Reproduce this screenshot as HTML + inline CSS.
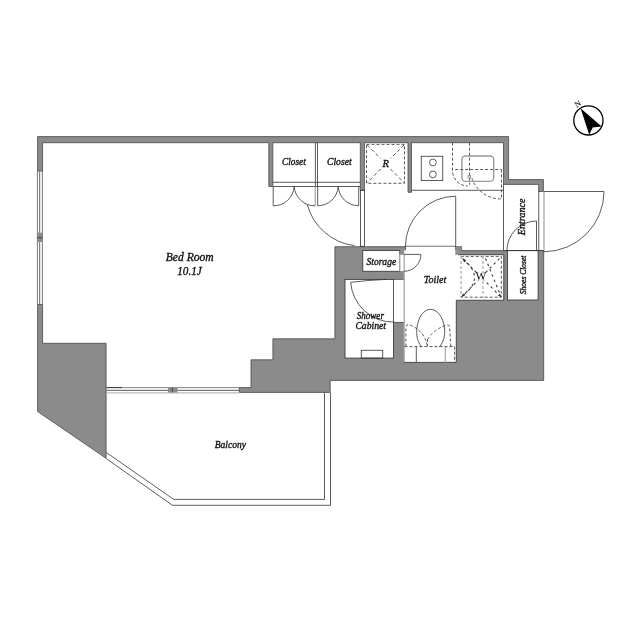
<!DOCTYPE html>
<html><head><meta charset="utf-8"><style>
html,body{margin:0;padding:0;background:#fff;}
body{width:640px;height:640px;overflow:hidden;}
svg{display:block;will-change:transform;}
text{font-family:"Liberation Serif",serif;font-style:italic;fill:#111;stroke:#111;stroke-width:0.35px;}
</style></head><body>
<svg width="640" height="640" viewBox="0 0 640 640">
<rect width="640" height="640" fill="#fff"/>

<!-- ===== WALLS ===== -->
<g id="walls" fill="#8b8b8b" stroke="#484848" stroke-width="0.8" stroke-linejoin="miter">
  <polygon points="37.6,171 37.6,136.6 508.6,136.6 508.6,179.6 543.4,179.6 543.4,191.5 538.6,191.5 538.7,184.4 503.5,184.4 503.5,142.7 411.5,142.7 411.5,192.3 408,192.3 408,142.7 364.4,142.7 364.4,190.3 360.3,190.3 360.3,142.7 272.8,142.7 272.8,186.4 268.8,186.4 268.8,142.7 42.6,142.7 42.6,171"/>
  <polygon points="37.6,304.5 42.6,304.5 42.6,343.3 106.1,343.3 106.1,458.3 37.6,411.5"/>
  <polygon points="334.9,246.7 461.6,246.7 461.6,250.6 543.7,250.6 543.7,380.4 330.2,380.4 330.2,392.4 239.3,392.4 239.3,387.6 251,387.6 251,359.8 272.9,359.8 272.9,338.8 334.9,338.8"/>
</g>
<!-- ===== white rooms inside the big gray block ===== -->
<g fill="#fff" stroke="#3c3c3c" stroke-width="0.9">
  <!-- toilet threshold -->
  <rect x="405.4" y="246.25" width="49.9" height="4.25"/>
  <!-- toilet + W L-shape -->
  <polygon points="404,250.5 455.3,250.5 455.3,250.3 458.1,250.3 458.1,254.7 503.75,254.7 503.75,300.25 456.3,300.25 456.3,362.4 404,362.4" stroke="none"/>
  <polyline fill="none" points="458.1,254.7 503.75,254.7 503.75,300.25 456.3,300.25 456.3,362.4 404,362.4"/>
  <!-- storage -->
  <rect x="362.75" y="250.5" width="37.05" height="20.8"/>
  <!-- shower cabinet -->
  <rect x="345" y="279.4" width="48.5" height="78.7"/>
  <!-- strip right of shower -->
  <rect x="393.5" y="279.4" width="10.5" height="42.85"/>
  <!-- shoes closet -->
  <rect x="507.5" y="250.6" width="30.6" height="49.4"/>
</g>
<!-- patch: remove borders between toilet & strips -->
<g fill="#fff" stroke="none">
  <rect x="399.9" y="254.6" width="4.8" height="16.5"/>
  <rect x="393.9" y="279.8" width="10.8" height="42"/>
  <rect x="405.9" y="246.7" width="49" height="4.4"/>
  <rect x="404.5" y="250.4" width="51" height="1"/>
</g>
<!-- small gray pieces -->
<g fill="#8b8b8b" stroke="none">
  <rect x="399.8" y="250.5" width="4.4" height="3.9"/>
  <rect x="455.3" y="246.25" width="6.3" height="4.1"/>
  <rect x="455.3" y="250.3" width="2.8" height="4.4"/>
</g>

<!-- light gray jamb lines -->
<g stroke="#a8a8a8" stroke-width="1.3" fill="none">
  <line x1="404.2" y1="254.4" x2="404.2" y2="362"/>
  <line x1="399.8" y1="254.4" x2="399.8" y2="271.3"/>
  <line x1="544" y1="191.3" x2="544" y2="250.5"/>
</g>

<!-- ===== thin lines ===== -->
<g stroke="#333" stroke-width="0.8" fill="none">
  <!-- hallway lines -->
  <line x1="411.5" y1="190.3" x2="503.5" y2="190.3"/>
  <line x1="503.5" y1="184.4" x2="503.5" y2="250.3"/>
  <line x1="538.75" y1="191.25" x2="538.75" y2="250.6"/>
  <line x1="503.5" y1="250.6" x2="544" y2="250.6"/>
  <!-- bedroom door leaf (thin rect) -->
  <rect x="360.5" y="190.3" width="4" height="56"/>
  <!-- closet tracks -->
  <line x1="273" y1="182.3" x2="360.3" y2="182.3"/>
  <line x1="273" y1="186.5" x2="360.3" y2="186.5"/>
  <line x1="315.4" y1="142.5" x2="315.4" y2="186.5"/>
  <line x1="317.5" y1="142.5" x2="317.5" y2="186.5"/>
  <!-- closet door leaves -->
  <line x1="273.2" y1="186.5" x2="273.2" y2="205.8"/>
  <line x1="315.2" y1="186.5" x2="315.2" y2="205.8" stroke="#999" stroke-width="1.1"/>
  <line x1="317.7" y1="186.5" x2="317.7" y2="205.8"/>
  <line x1="358.7" y1="186.5" x2="358.7" y2="205.8"/>
  <path d="M273.2,205.8 A20.5,20.5 0 0 0 294.2,186.5"/>
  <path d="M315.2,205.8 A20.5,20.5 0 0 1 294.2,186.5"/>
  <path d="M317.7,205.8 A20.5,20.5 0 0 0 338.2,186.5"/>
  <path d="M358.7,205.8 A20.5,20.5 0 0 1 338.2,186.5"/>
  <!-- bedroom door arc -->
  <path d="M307.2,204.4 A56,56 0 0 0 354.5,245.6"/>
  <!-- toilet door -->
  <line x1="455.7" y1="246.5" x2="455.7" y2="196.2"/>
  <path d="M455.7,196.2 A50.3,50.3 0 0 0 405.4,246.5"/>
  <!-- entrance door -->
  <line x1="543.75" y1="191.5" x2="604" y2="191.5"/>
  <path d="M604,191.5 A60.25,60.25 0 0 1 543.75,251.75"/>
  <!-- shoes closet door -->
  <line x1="536.5" y1="250.6" x2="536.5" y2="221"/>
  <path d="M536.5,221 A29.6,29.6 0 0 0 506.9,250.6"/>
  <!-- storage door -->
  <line x1="404" y1="254.4" x2="420.9" y2="254.4"/>
  <path d="M420.9,254.4 A16.9,16.9 0 0 1 404,271.3"/>
  <!-- shower door -->
  <path d="M350.7,282.3 Q368,280.2 386,279.4"/>
  <path d="M350.7,282.3 A42.7,42.7 0 0 0 393.5,322.1"/>
  <!-- shower tray -->
  <rect x="361.25" y="350.25" width="21.5" height="7.85"/>
  <!-- stove -->
  <rect x="421.25" y="156.25" width="21.5" height="24.35"/>
  <circle cx="432.9" cy="162.5" r="3.4"/>
  <circle cx="432.9" cy="174.4" r="3.4"/>
  <!-- balcony -->
  <polyline points="106.3,452.5 173.75,499.4 324.5,499.4 324.5,392.6"/>
  <polyline points="106.3,458.6 172.5,505.3 330.5,505.3 330.5,392.6"/>
</g>

<!-- sink -->
<g stroke="#666" stroke-width="0.8"><line x1="468.1" y1="175" x2="468.1" y2="178.3"/><line x1="470.4" y1="175" x2="470.4" y2="178.3"/></g>
<rect x="461.9" y="156" width="31.8" height="25.4" rx="3.5" fill="none" stroke="#9a9a9a" stroke-width="1.4"/>

<!-- dashed -->
<g stroke="#505050" stroke-width="0.95" fill="none" stroke-dasharray="3,2">
  <rect x="366.5" y="144.4" width="38" height="38.9"/>
  <g stroke-dasharray="3.5,2.5">
  <line x1="367.2" y1="145" x2="380.7" y2="158.5"/>
  <line x1="390.5" y1="169" x2="404" y2="182.7"/>
  <line x1="404" y1="145" x2="390.5" y2="158.5"/>
  <line x1="380.7" y1="169" x2="367.2" y2="182.7"/>
  </g>
  <path d="M452.5,142.7 L452.5,170.5 A15.5,15.5 0 0 0 468,186"/>
  <line x1="469.5" y1="142.7" x2="469.5" y2="184.7"/>
  <line x1="455.2" y1="169.5" x2="501.5" y2="169.5"/>
  <line x1="501.5" y1="169.5" x2="501.5" y2="198.9"/>
  <path d="M471.8,178 A30.5,30.5 0 0 0 501.5,198.9"/>
  <!-- W box -->
  <polyline points="460.7,256.4 501.3,256.4 501.3,297.2 460.7,297.2"/>
  <g stroke-dasharray="2.5,3.2" stroke="#333" stroke-width="1.05">
  <line x1="462.5" y1="258.5" x2="500.5" y2="296.5"/>
  <line x1="499.5" y1="258.5" x2="462" y2="296.5"/>
  <path d="M463.5,259.5 Q486,278 462.5,296"/>
  <line x1="485.5" y1="258.5" x2="501" y2="296.5"/>
  </g>
<!-- toilet dashed -->
  <line x1="404.5" y1="346.6" x2="454.6" y2="346.6"/>
  <line x1="454.6" y1="346.6" x2="454.6" y2="362"/>
  <path d="M405.9,346.5 L405.9,327.4 Q406.3,324.6 408,324.6 Q415,326 421.3,332.8 Q425.5,337.5 427.3,345.4"/>
  <path d="M450.8,346.5 L449.5,326 Q449,324.6 447,325 Q440,327 434.4,331.7 Q429.5,335.5 427.8,339.4"/>
  <line x1="427.5" y1="339" x2="427.5" y2="346"/>
</g>
<ellipse cx="481" cy="276" rx="6" ry="5" fill="#fff"/>
<g stroke="#b4b4b4" stroke-width="1.4" fill="none" stroke-dasharray="3,2">
  <line x1="461" y1="256" x2="461" y2="297.5"/>
  <line x1="483" y1="256" x2="483" y2="297.5"/>
</g>

<g fill="#333" stroke="none">
  <polygon points="462.6,258.6 466.2,260.3 464.3,262.4"/>
  <polygon points="461.2,296.9 463.1,293.6 465.1,295.6"/>
  <polygon points="501.2,297 497.9,295.6 499.9,293.7"/>
</g>
<!-- toilet -->
<g stroke="#333" stroke-width="0.8" fill="none">
  <path d="M421.8,347 C417,341.5 416.4,335 416.8,329 C417.8,317 424,309.3 430.6,309.3 C437,309.3 443.6,317 444.6,329 C445,335 444,341.5 439.3,347"/>
  <line x1="416.3" y1="347" x2="416.3" y2="362.4"/>
</g>
<line x1="445.3" y1="347" x2="445.3" y2="362.4" stroke="#aaa" stroke-width="1.2"/>

<!-- windows -->
<g stroke="#555" stroke-width="0.8" fill="none">
  <line x1="37.4" y1="171" x2="37.4" y2="304.5"/>
  <line x1="39.7" y1="171" x2="39.7" y2="304.5" stroke="#555" stroke-width="0.9"/>
  <line x1="42.4" y1="171" x2="42.4" y2="304.5"/>
  <line x1="106.5" y1="387.6" x2="239.3" y2="387.6" stroke="#666"/>
  <line x1="106.5" y1="387.6" x2="122" y2="387.6" stroke="#222"/>
  <line x1="106.5" y1="390.3" x2="239.3" y2="390.3" stroke="#4a4a4a" stroke-width="0.9"/>
  <line x1="106.5" y1="392.8" x2="239.3" y2="392.8" stroke="#bbb" stroke-width="1.3"/>
</g>
<rect x="37" y="232.7" width="5.5" height="9.3" fill="#8b8b8b"/>
<line x1="37" y1="237.7" x2="42.5" y2="237.7" stroke="#333" stroke-width="0.8"/>
<rect x="168" y="387.5" width="9.5" height="5" fill="#8b8b8b"/>
<line x1="172.3" y1="387.5" x2="172.3" y2="392.5" stroke="#333" stroke-width="0.8"/>

<!-- compass -->
<circle cx="588.4" cy="120.4" r="14.6" fill="none" stroke="#000" stroke-width="1.3"/>
<polygon points="580.6,108.3 601.7,126.6 592.7,127.4 589.2,134.8" fill="#000"/>
<text x="0" y="2.8" font-size="8.2" text-anchor="middle" transform="translate(577.7 103.9) rotate(-32)" style="font-style:normal;stroke-width:0.1px">N</text>

<!-- labels -->
<g id="labels" font-size="10" text-anchor="middle">
  <text transform="translate(293.85 164.65) scale(0.93 1)">Closet</text>
  <text transform="translate(339.3 165.1) scale(0.96 1)">Closet</text>
  <text transform="translate(385.7 167.3)" font-size="10.5">R</text>
  <text transform="translate(189.75 261.4) scale(0.967 1)" font-size="12">Bed Room</text>
  <text transform="translate(189.5 275.4) scale(0.93 1)" font-size="12">10.1J</text>
  <text transform="translate(381.3 264.8) scale(0.955 1)">Storage</text>
  <text transform="translate(435 282.9) scale(0.93 1)" font-size="10.8">Toilet</text>
  <text transform="translate(370.3 318.7) scale(0.91 1)">Shower</text>
  <text transform="translate(370.65 328.6) scale(0.965 1)">Cabinet</text>
  <text transform="translate(481 280)" font-size="11.5" style="font-style:normal;stroke-width:0">W</text>
  <text transform="translate(230.35 448.2) scale(0.955 1)">Balcony</text>
  <text transform="translate(525.3 216.9) rotate(-90)">Entrance</text>
  <text transform="translate(526.4 274.9) rotate(-90) scale(0.91 1)" font-size="8.3">Shoes Closet</text>
</g>
</svg>
</body></html>
